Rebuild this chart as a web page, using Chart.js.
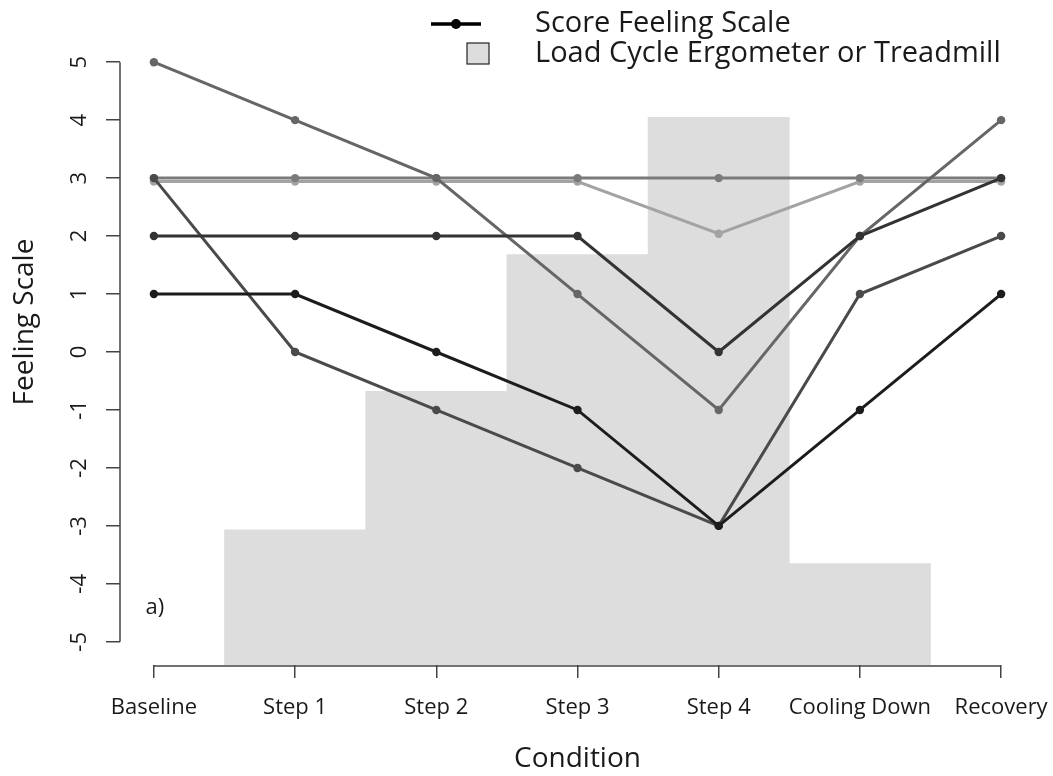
<!DOCTYPE html>
<html><head><meta charset="utf-8">
<script src="https://cdn.jsdelivr.net/npm/chart.js@4.4.0/dist/chart.umd.min.js"></script>
<style>html,body{margin:0;padding:0;background:#fff}</style>
</head><body>
<canvas id="c" width="1053" height="776" style="width:1053px;height:776px;display:block"></canvas>
<script>
const categories = ['Baseline','Step 1','Step 2','Step 3','Step 4','Cooling Down','Recovery'];
const yTicks = [-5,-4,-3,-2,-1,0,1,2,3,4,5];
const loadValues = [null, -3.07, -0.68, 1.68, 4.05, -3.65, null];
const seriesA = [1, 1, 0, -1, -3, -1, 1];
const seriesB = [2, 2, 2, 2, 0, 2, 3];
const seriesC = [3, 0, -1, -2, -3, 1, 2];
const seriesD = [5, 4, 3, 1, -1, 2, 4];
const seriesE = [3, 3, 3, 3, 3, 3, 3];
const seriesF = [2.94, 2.94, 2.94, 2.94, 2.04, 2.94, 2.94];
const lineSeries = [seriesA, seriesB, seriesC, seriesD, seriesE, seriesF];
const lineColors = ['#1c1c1c','#333333','#4a4a4a','#666666','#7a7a7a','#a3a3a3'];
const legendLabels = ['Score Feeling Scale', 'Load Cycle Ergometer or Treadmill'];
const panelLabel = 'a)';
const xTitle = 'Condition';
const yTitle = 'Feeling Scale';
const Y_MIN = -5.4, Y_MAX = 5.4, X_MIN = -0.24, X_MAX = 6.24;
const FONT = '"Open Sans", "DejaVu Sans", sans-serif';

const toXY = arr => arr.map((v, i) => ({x: i, y: v})).filter(p => p.y !== null);

const datasets = lineSeries.map((s, k) => ({
  type: 'line',
  data: toXY(s),
  borderColor: lineColors[k],
  backgroundColor: lineColors[k],
  borderWidth: 3,
  pointRadius: 4.2,
  pointBorderWidth: 0,
  pointBackgroundColor: lineColors[k],
  tension: 0,
  order: k
}));
datasets.push({
  type: 'bar',
  data: toXY(loadValues),
  base: Y_MIN,
  backgroundColor: '#dddddd',
  borderWidth: 0,
  barPercentage: 1.0,
  categoryPercentage: 1.0,
  order: 100
});

const decor = {
  id: 'decor',
  afterDraw(chart) {
    const ctx = chart.ctx;
    const xs = chart.scales.x, ys = chart.scales.y;
    const ca = chart.chartArea;
    ctx.save();
    // axis lines
    ctx.strokeStyle = '#444';
    ctx.lineWidth = 1.5;
    ctx.beginPath();
    ctx.moveTo(ca.left, ys.getPixelForValue(yTicks[0]));
    ctx.lineTo(ca.left, ys.getPixelForValue(yTicks[yTicks.length-1]));
    ctx.moveTo(xs.getPixelForValue(0), ca.bottom + 1);
    ctx.lineTo(xs.getPixelForValue(categories.length - 1), ca.bottom + 1);
    ctx.stroke();
    // y tick labels (rotated)
    ctx.fillStyle = '#1a1a1a';
    ctx.font = '22px ' + FONT;
    ctx.textAlign = 'center';
    ctx.textBaseline = 'middle';
    yTicks.forEach(v => {
      ctx.save();
      ctx.translate(80, ys.getPixelForValue(v));
      ctx.rotate(-Math.PI / 2);
      ctx.fillText(String(v), 0, 0);
      ctx.restore();
    });
    // y title
    ctx.save();
    ctx.font = '28px ' + FONT;
    ctx.translate(25, 322);
    ctx.rotate(-Math.PI / 2);
    ctx.fillText(yTitle, 0, 0);
    ctx.restore();
    // x title
    ctx.font = '28px ' + FONT;
    ctx.fillText(xTitle, (xs.getPixelForValue(0) + xs.getPixelForValue(6)) / 2, 759);
    // panel label
    ctx.font = '22px ' + FONT;
    ctx.textAlign = 'left';
    ctx.fillText(panelLabel, xs.getPixelForValue(-0.06), ys.getPixelForValue(-4.41));
    // legend
    ctx.strokeStyle = '#000';
    ctx.lineWidth = 3.5;
    ctx.beginPath();
    ctx.moveTo(431, 24); ctx.lineTo(481, 24);
    ctx.stroke();
    ctx.fillStyle = '#000';
    ctx.beginPath(); ctx.arc(456, 24, 5, 0, Math.PI * 2); ctx.fill();
    ctx.fillStyle = '#dddddd';
    ctx.fillRect(467, 43, 22, 21);
    ctx.lineWidth = 1.2;
    ctx.strokeStyle = '#222';
    ctx.strokeRect(467, 43, 22, 21);
    ctx.fillStyle = '#1a1a1a';
    ctx.font = '29px ' + FONT;
    ctx.textAlign = 'left';
    ctx.fillText(legendLabels[0], 535, 24);
    ctx.fillText(legendLabels[1], 535, 54);
    ctx.restore();
  }
};

new Chart(document.getElementById('c'), {
  data: { datasets },
  options: {
    responsive: false,
    animation: false,
    devicePixelRatio: 1,
    layout: { padding: { top: 39, right: 18, left: 0, bottom: 0 } },
    plugins: { legend: { display: false }, tooltip: { enabled: false } },
    scales: {
      x: {
        type: 'linear',
        offset: false,
        min: X_MIN, max: X_MAX,
        afterBuildTicks: s => { s.ticks = categories.map((c, i) => ({value: i})); },
        afterFit: s => { s.height = 111; s.paddingLeft = 0; s.paddingRight = 0; },
        grid: { offset: false, drawOnChartArea: false, drawTicks: true, tickLength: 13, color: '#444', lineWidth: 1.5 },
        border: { display: false },
        ticks: {
          autoSkip: false, maxRotation: 0, padding: 17,
          color: '#1a1a1a', font: { family: FONT, size: 22 },
          callback: v => categories[v]
        }
      },
      y: {
        type: 'linear',
        min: Y_MIN, max: Y_MAX,
        afterBuildTicks: s => { s.ticks = yTicks.map(v => ({value: v})); },
        afterFit: s => { s.width = 120; },
        grid: { drawOnChartArea: false, drawTicks: true, tickLength: 14, color: '#444', lineWidth: 1.5 },
        border: { display: false },
        ticks: { display: false }
      }
    }
  },
  plugins: [decor]
});
</script>
</body></html>
